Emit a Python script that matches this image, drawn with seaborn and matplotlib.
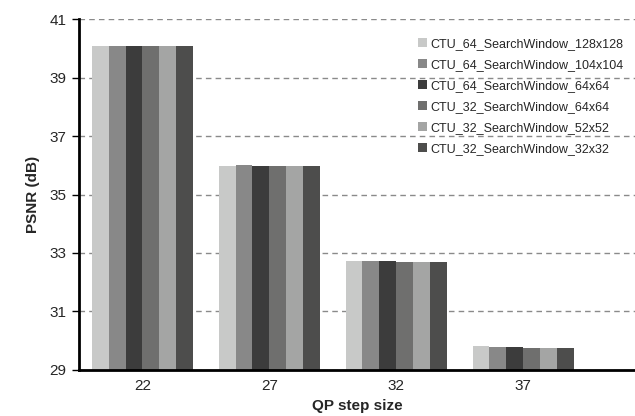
import matplotlib
matplotlib.use("Agg")
import matplotlib.pyplot as plt
import seaborn as sns
import pandas as pd

qp = ["22", "27", "32", "37"]
series = [
    "CTU_64_SearchWindow_128x128",
    "CTU_64_SearchWindow_104x104",
    "CTU_64_SearchWindow_64x64",
    "CTU_32_SearchWindow_64x64",
    "CTU_32_SearchWindow_52x52",
    "CTU_32_SearchWindow_32x32",
]
s_128 = [40.07, 35.99, 32.71, 29.81]
s_104 = [40.07, 36.00, 32.71, 29.79]
s_64 = [40.07, 35.98, 32.71, 29.80]
s32_64 = [40.07, 35.96, 32.68, 29.74]
s32_52 = [40.07, 35.96, 32.68, 29.74]
s32_32 = [40.07, 35.96, 32.68, 29.74]
colors = ["#c8c9c8", "#888888", "#3c3c3c", "#6f6f6e", "#a4a5a4", "#4d4d4c"]

rows = []
for name, vals in zip(series, [s_128, s_104, s_64, s32_64, s32_52, s32_32]):
    for q, v in zip(qp, vals):
        rows.append({"QP": q, "PSNR": v, "Config": name})
df = pd.DataFrame(rows)

sns.set_style("white")
plt.rcParams["font.family"] = ["Liberation Sans", "DejaVu Sans"]

fig = plt.figure(figsize=(6.35, 4.16), dpi=100)
ax = fig.add_axes([0.1244, 0.1106, 0.8756, 0.8437])

sns.barplot(data=df, x="QP", y="PSNR", hue="Config", palette=colors,
            hue_order=series, order=qp, width=0.8, ax=ax, linewidth=0,
            saturation=1, errorbar=None)

ax.set_ylim(29, 41)
ax.set_yticks([29, 31, 33, 35, 37, 39, 41])
ax.set_xlim(-0.5, 3.88)
ax.yaxis.grid(True, linestyle=(0, (4, 3)), color="#8a8a8a", linewidth=1)
ax.set_axisbelow(True)
for side in ["top", "right"]:
    ax.spines[side].set_visible(False)
for side in ["left", "bottom"]:
    ax.spines[side].set_color("black")
    ax.spines[side].set_linewidth(2)
ax.tick_params(axis="y", left=True, length=5, width=1, labelsize=11, color="black", pad=4)
ax.tick_params(axis="x", bottom=False, labelsize=11, pad=3)
ax.set_xlabel("QP step size", fontsize=11, fontweight="bold", labelpad=4.5)
ax.set_ylabel("PSNR (dB)", fontsize=11, fontweight="bold", labelpad=7)

leg = ax.legend(loc="upper right", bbox_to_anchor=(1.0, 0.978), frameon=False,
                fontsize=9, handlelength=0.7, handleheight=0.7, handletextpad=0.3,
                labelspacing=0.72)

fig.savefig("out.png", dpi=100)
